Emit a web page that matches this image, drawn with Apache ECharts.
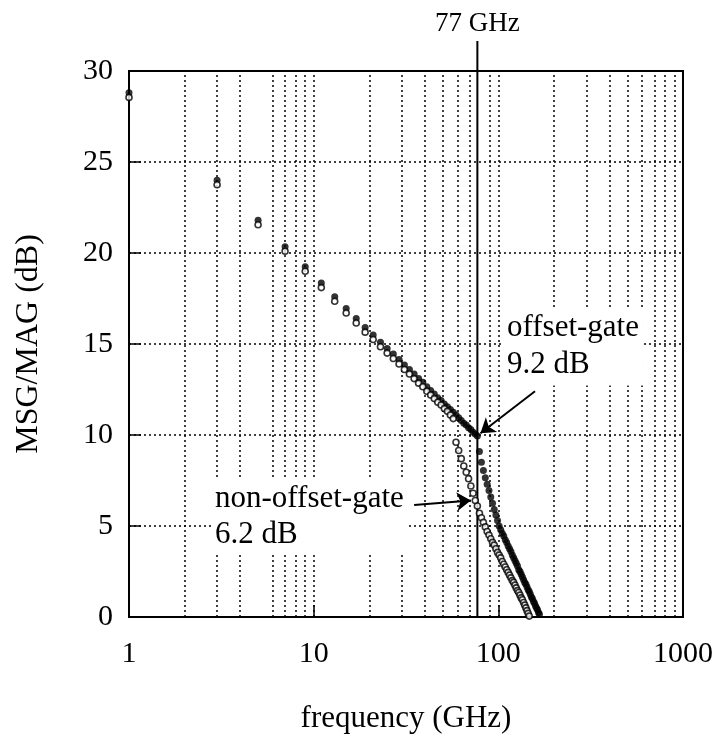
<!DOCTYPE html>
<html>
<head>
<meta charset="utf-8">
<script src="https://cdn.jsdelivr.net/npm/echarts@6/dist/echarts.min.js"></script>
<style>
    html, body { margin: 0; background: #fff; }
    #chart { width: 723px; height: 744px; }
</style>
</head>
<body>
<div id="chart"></div>
<script>
// ============================================
// MSG/MAG vs frequency (offset-gate / non-offset-gate)
// ============================================

// 頻率 (GHz)
const freqOffset = [1, 3, 5, 7, 9, 11, 13, 15, 17, 19, 21, 23, 25, 27, 29, 31, 33, 35, 37, 39,
    41, 43, 45, 47, 49, 51, 53, 55, 57, 59, 61, 63, 65, 67, 69, 71, 73, 75, 77, 79,
    81, 83, 85, 87, 89, 91, 93, 95, 97, 99, 101, 103, 105, 107, 109, 111, 113, 115, 117, 119,
    121, 123, 125, 127, 129, 131, 133, 135, 137, 139, 141, 143, 145, 147, 149, 151, 153, 155, 157, 159,
    161, 163, 165, 167];
const freqNonOffset = [1, 3, 5, 7, 9, 11, 13, 15, 17, 19, 21, 23, 25, 27, 29, 31, 33, 35, 37, 39,
    41, 43, 45, 47, 49, 51, 53, 55, 57, 59, 61, 63, 65, 67, 69, 71, 73, 75, 77, 79,
    81, 83, 85, 87, 89, 91, 93, 95, 97, 99, 101, 103, 105, 107, 109, 111, 113, 115, 117, 119,
    121, 123, 125, 127, 129, 131, 133, 135, 137, 139, 141, 143, 145, 147];

// 增益 (dB)
const gainOffset = [28.8, 24.0, 21.8, 20.35, 19.25, 18.35, 17.6, 16.95, 16.4, 15.9,
    15.5, 15.1, 14.75, 14.45, 14.15, 13.85, 13.6, 13.35, 13.1, 12.9,
    12.65, 12.45, 12.25, 12.05, 11.9, 11.7, 11.55, 11.4, 11.25, 11.1,
    10.95, 10.8, 10.65, 10.55, 10.4, 10.3, 10.15, 10.05, 9.95,
    9.1, 8.5, 8.05, 7.65, 7.3, 6.95, 6.6, 6.25, 5.9, 5.6, 5.3, 5.0,
    4.8, 4.6, 4.45, 4.25, 4.1, 3.9, 3.75, 3.6, 3.4, 3.25, 3.1, 2.95, 2.8, 2.6, 2.5,
    2.35, 2.2, 2.05, 1.9, 1.8, 1.65, 1.5, 1.4, 1.25, 1.1, 1.0, 0.85, 0.75, 0.6, 0.5,
    0.4, 0.25, 0.15];
const gainNonOffset = [28.55, 23.75, 21.55, 20.1, 19.0, 18.1, 17.35, 16.7, 16.15, 15.65,
    15.25, 14.85, 14.5, 14.2, 13.9, 13.6, 13.35, 13.1, 12.85, 12.65,
    12.4, 12.2, 12.0, 11.8, 11.65, 11.45, 11.3, 11.1, 10.9,
    9.6, 9.15, 8.7, 8.3, 7.95, 7.6, 7.2, 6.8, 6.4, 6.1,
    5.7, 5.45, 5.2, 4.95, 4.7, 4.5, 4.3, 4.1, 3.95, 3.75,
    3.55, 3.4, 3.25, 3.05, 2.9, 2.75, 2.6, 2.45, 2.3, 2.15,
    2.0, 1.9, 1.75, 1.6, 1.45, 1.35, 1.2, 1.05, 0.95, 0.8,
    0.65, 0.5, 0.35, 0.2, 0.05];

// 坐標軸
const xTicks = [1, 10, 100, 1000];
const yTicks = [0, 5, 10, 15, 20, 25, 30];
// 細格線 (原圖缺 5 與 80)
const xGridFreqs = [2, 3, 4, 6, 7, 8, 9, 10, 20, 30, 40, 50, 60, 70, 90, 100,
    200, 300, 400, 500, 600, 700, 800, 900];
const markFreq = 77;

// 標註
const arrowOffset = [[158, 12.4], [80, 10.1]];
const arrowNonOffset = [[35, 6.15], [71, 6.4]];
const notes = [
    { text: 'offset-gate\n9.2 dB', at: [106, 17.0], lineHeight: 37 },
    { text: 'non-offset-gate\n6.2 dB', at: [2.78, 7.6], lineHeight: 36 }
];

const FONT = "'Liberation Serif', 'DejaVu Serif', serif";

const chart = echarts.init(document.getElementById('chart'));

chart.setOption({
    animation: false,
    grid: {
        left: 129, right: 40, top: 71, bottom: 127,
        show: true, borderColor: '#000', borderWidth: 2
    },
    xAxis: {
        type: 'log', logBase: 10,
        min: xTicks[0], max: xTicks[xTicks.length - 1],
        name: 'frequency (GHz)', nameLocation: 'middle', nameGap: 86,
        nameTextStyle: { fontFamily: FONT, fontSize: 31, color: '#000' },
        axisLine: { show: true, onZero: false, lineStyle: { color: '#000', width: 2 } },
        axisTick: { show: true, inside: true, length: 12, lineStyle: { color: '#000', width: 1.5 } },
        axisLabel: { fontFamily: FONT, fontSize: 30, color: '#000', margin: 22, formatter: v => String(v) },
        splitLine: { show: false },
        minorTick: { show: false }
    },
    yAxis: {
        type: 'value',
        min: yTicks[0], max: yTicks[yTicks.length - 1], interval: yTicks[1] - yTicks[0],
        name: 'MSG/MAG (dB)', nameLocation: 'middle', nameGap: 84, nameRotate: 90,
        nameTextStyle: { fontFamily: FONT, fontSize: 32, color: '#000' },
        axisLine: { show: true, lineStyle: { color: '#000', width: 2 } },
        axisTick: { show: true, inside: true, length: 12, lineStyle: { color: '#000', width: 1.5 } },
        axisLabel: { fontFamily: FONT, fontSize: 30, color: '#000', margin: 16, padding: [16, 0, 0, 0] },
        splitLine: { show: true, lineStyle: { type: [2, 3], color: '#000', width: 1.5 } }
    },
    series: [
        {
            // 垂直格線
            name: 'grid',
            type: 'line',
            data: [],
            z: 1,
            silent: true,
            markLine: {
                silent: true,
                symbol: ['none', 'none'],
                label: { show: false },
                lineStyle: { type: [2, 3], color: '#000', width: 1.5 },
                data: xGridFreqs.map(f => ({ xAxis: f }))
            }
        },
        {
            // 77 GHz
            name: 'mark',
            type: 'custom',
            z: 2,
            clip: false,
            silent: true,
            data: [[markFreq]],
            renderItem: (params, api) => {
                const p0 = api.coord([api.value(0), yTicks[0]]);
                const p1 = api.coord([api.value(0), yTicks[yTicks.length - 1]]);
                return {
                    type: 'group',
                    children: [
                        {
                            type: 'line',
                            shape: { x1: p0[0], y1: p0[1], x2: p1[0], y2: p1[1] - 30 },
                            style: { stroke: '#000', lineWidth: 2 }
                        },
                        {
                            type: 'text',
                            x: p1[0], y: p1[1] - 34,
                            style: {
                                text: markFreq + ' GHz', fill: '#000',
                                font: '27px ' + FONT,
                                align: 'center', verticalAlign: 'bottom'
                            }
                        }
                    ]
                };
            }
        },
        {
            // 箭頭
            name: 'arrows',
            type: 'line',
            data: [],
            z: 6,
            silent: true,
            markLine: {
                silent: true,
                symbol: ['none', 'arrow'],
                symbolSize: 14,
                label: { show: false },
                lineStyle: { type: 'solid', color: '#000', width: 2, opacity: 1 },
                itemStyle: { color: '#000' },
                data: [
                    [{ coord: arrowOffset[0] }, { coord: arrowOffset[1] }],
                    [{ coord: arrowNonOffset[0] }, { coord: arrowNonOffset[1] }]
                ]
            }
        },
        {
            name: 'offset-gate',
            type: 'scatter',
            z: 4,
            symbol: 'circle',
            symbolSize: 7,
            itemStyle: { color: '#000' },
            data: freqOffset.map((f, i) => [f, gainOffset[i]])
        },
        {
            name: 'non-offset-gate',
            type: 'scatter',
            z: 5,
            symbol: 'circle',
            symbolSize: 6,
            itemStyle: { color: '#fff', borderColor: '#000', borderWidth: 1.6 },
            data: freqNonOffset.map((f, i) => [f, gainNonOffset[i]])
        }
    ]
});

// 文字標註
chart.setOption({
    graphic: notes.map(n => {
        const p = chart.convertToPixel({ gridIndex: 0 }, n.at);
        return {
            type: 'text',
            z: 10,
            x: p[0], y: p[1],
            style: {
                text: n.text, fill: '#000',
                font: '31px ' + FONT,
                lineHeight: n.lineHeight,
                backgroundColor: '#fff',
                padding: [2, 4]
            }
        };
    })
});
</script>
</body>
</html>
